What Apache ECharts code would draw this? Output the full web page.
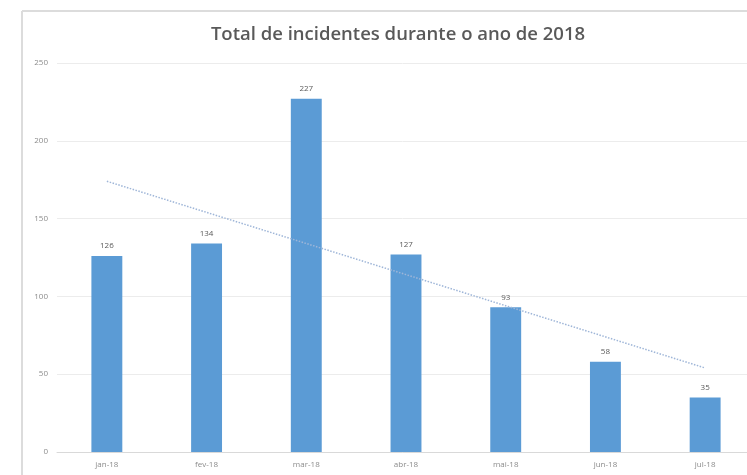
<!DOCTYPE html>
<html>
<head>
<meta charset="utf-8">
<script src="https://cdn.jsdelivr.net/npm/echarts@6/dist/echarts.min.js"></script>
<style>
  html, body { margin: 0; padding: 0; background: #fff; overflow: hidden; }
  #chart { width: 747px; height: 475px; }
</style>
</head>
<body>
<div id="chart"></div>
<script>
const months = ['jan-18', 'fev-18', 'mar-18', 'abr-18', 'mai-18', 'jun-18', 'jul-18'];
const incidents = [126, 134, 227, 127, 93, 58, 35];
// trend line end points
const trendStart = 174;
const trendEnd = 54;

const myChart = echarts.init(document.getElementById('chart'));

myChart.setOption({
  animation: false,
  title: {
    text: 'Total de incidentes durante o ano de 2018',
    left: 393,
    top: 20,
    textAlign: 'center',
    textStyle: { fontFamily: 'Open Sans', fontSize: 18.5, fontWeight: 600, color: '#595959' }
  },
  // chart frame (top and left edges)
  graphic: [
    { type: 'line', shape: { x1: 22, y1: 11, x2: 747, y2: 11 }, style: { stroke: '#dcdcdc', lineWidth: 2 } },
    { type: 'line', shape: { x1: 22, y1: 11, x2: 22, y2: 475 }, style: { stroke: '#dcdcdc', lineWidth: 2 } }
  ],
  grid: { left: 57, right: -8, top: 63, bottom: 23, outerBoundsMode: 'none', containLabel: false },
  xAxis: {
    type: 'category',
    data: months,
    axisTick: { show: false },
    splitLine: { show: false },
    axisLine: { lineStyle: { color: '#d9d9d9' } },
    axisLabel: { color: '#8c8c8c', fontSize: 8, fontFamily: 'Open Sans', margin: 9 }
  },
  yAxis: {
    type: 'value',
    min: 0,
    max: 250,
    interval: 50,
    axisLine: { show: false },
    axisTick: { show: false },
    axisLabel: { color: '#8c8c8c', fontSize: 8, fontFamily: 'Open Sans', margin: 9 },
    splitLine: { lineStyle: { color: '#ececec' } }
  },
  series: [{
    type: 'bar',
    data: incidents,
    barWidth: '31%',
    itemStyle: { color: '#5b9bd5' },
    label: { show: true, position: 'top', color: '#595959', fontSize: 8, fontFamily: 'Open Sans', distance: 6 },
    markLine: {
      symbol: 'none',
      silent: true,
      label: { show: false },
      lineStyle: { type: 'dotted', color: '#9fb6d8', width: 1.5 },
      data: [[
        { xAxis: months[0], yAxis: trendStart },
        { xAxis: months[months.length - 1], yAxis: trendEnd }
      ]]
    }
  }]
});
</script>
</body>
</html>
